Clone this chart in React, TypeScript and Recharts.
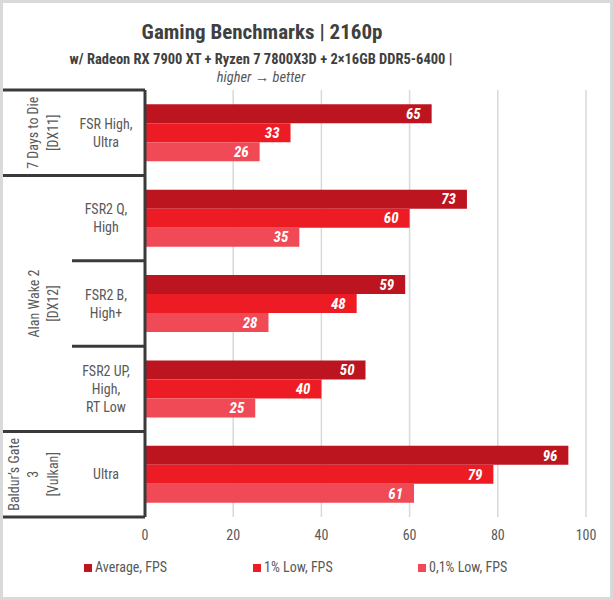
import React from 'react';
import { BarChart, Bar, XAxis, YAxis, CartesianGrid, LabelList } from 'recharts';

const groups = ['7 Days to Die\n[DX11]', 'Alan Wake 2\n[DX12]', 'Baldur\u2019s Gate\n3\n[Vulkan]'];
const settings = ['FSR High,\nUltra', 'FSR2 Q,\nHigh', 'FSR2 B,\nHigh+', 'FSR2 UP,\nHigh,\nRT Low', 'Ultra'];
const settingGroup = [0, 1, 1, 1, 2];

const avgFps = [65, 73, 59, 50, 96];
const low1Fps = [33, 60, 48, 40, 79];
const low01Fps = [26, 35, 28, 25, 61];

const seriesNames = ['Average, FPS', '1% Low, FPS', '0,1% Low, FPS'];
const xTicks = [0, 20, 40, 60, 80, 100];

const COLORS = ['#BC1520', '#ED1C24', '#EF4A55'];
const FONT = '"Roboto Condensed", "Liberation Sans Narrow", Roboto, sans-serif';
const TEXT = '#595959';
const LINE = '#3a3a3a';

const data = settings.map((s, i) => ({
  name: s,
  avg: avgFps[i],
  low1: low1Fps[i],
  low01: low01Fps[i],
}));

const AXIS_X = 145;

const SettingTick = (props: any) => {
  const { y, payload } = props;
  const i = payload.index ?? props.index;
  const half = payload.offset || 42.7;
  const lines = settings[i].split('\n');
  const g = settingGroup[i];
  const first = settingGroup.indexOf(g);
  const count = settingGroup.filter((v) => v === g).length;
  const isFirst = first === i;
  const isLast = i === settings.length - 1;
  const gLines = groups[g].split('\n');
  const cy = y + (count - 1) * half;

  return (
    <g>
      <line x1={isFirst ? 3 : 72} x2={AXIS_X} y1={y - half} y2={y - half} stroke={LINE} strokeWidth={3} />
      {isLast && <line x1={3} x2={AXIS_X} y1={y + half} y2={y + half} stroke={LINE} strokeWidth={3} />}
      <text x={106} y={y} textAnchor="middle" fill={TEXT} fontSize={14}>
        {lines.map((l, k) => (
          <tspan key={k} x={106} dy={k === 0 ? -((lines.length - 1) / 2) * 18 + 5 : 18}>
            {l}
          </tspan>
        ))}
      </text>
      {isFirst &&
        gLines.map((l, k) => {
          const cx = 53 - (gLines.length - 1 - k) * 19.5;
          return (
            <text
              key={k}
              x={cx}
              y={cy}
              dy={5}
              textAnchor="middle"
              fill={TEXT}
              fontSize={14}
              transform={`rotate(-90 ${cx} ${cy})`}
            >
              {l}
            </text>
          );
        })}
    </g>
  );
};

const legendX = [84, 253, 418];

export default function App() {
  const keys = ['avg', 'low1', 'low01'];
  return (
    <div style={{ position: 'absolute', left: 0, top: 0, width: 613, height: 600, background: '#fff', fontFamily: FONT }}>
      <BarChart
        layout="vertical"
        width={613}
        height={600}
        data={data}
        margin={{ top: 90, right: 27, bottom: 53, left: 0 }}
        barCategoryGap="16.7%"
        barGap={0}
      >
        <CartesianGrid horizontal={false} stroke="#d9d9d9" strokeWidth={1.5} />
        <XAxis
          type="number"
          domain={[0, 100]}
          ticks={xTicks}
          height={30}
          tickLine={false}
          axisLine={false}
          tickSize={0}
          tickMargin={13}
          tick={{ fill: TEXT, fontSize: 14 }}
        />
        <YAxis
          type="category"
          dataKey="name"
          width={145}
          interval={0}
          tickLine={false}
          axisLine={{ stroke: LINE, strokeWidth: 3 }}
          tick={<SettingTick />}
        />
        {keys.map((k, i) => (
          <Bar key={k} dataKey={k} name={seriesNames[i]} fill={COLORS[i]} isAnimationActive={false}>
            <LabelList
              dataKey={k}
              position="insideRight"
              offset={11}
              fill="#fff"
              fontSize={15}
              fontWeight="bold"
              fontStyle="italic"
            />
          </Bar>
        ))}
      </BarChart>
      <svg width={613} height={600} style={{ position: 'absolute', left: 0, top: 0, pointerEvents: 'none' }}>
        <text x={262} y={39} textAnchor="middle" fontSize={21} fontWeight="bold" fill="#404040">
          Gaming Benchmarks | 2160p
        </text>
        <text x={261} y={64} textAnchor="middle" fontSize={14.5} fontWeight="bold" fill="#404040">
          w/ Radeon RX 7900 XT + Ryzen 7 7800X3D + 2×16GB DDR5-6400 |
        </text>
        <text x={261} y={82} textAnchor="middle" fontSize={14.5} fontStyle="italic" fill={TEXT}>
          higher → better
        </text>
        {seriesNames.map((n, i) => (
          <g key={n}>
            <rect x={legendX[i]} y={564} width={8} height={8} fill={COLORS[i]} />
            <text x={legendX[i] + 11} y={572} fontSize={14} fill={TEXT}>
              {n}
            </text>
          </g>
        ))}
      </svg>
      <div
        style={{
          position: 'absolute',
          left: 0,
          top: 0,
          width: 613,
          height: 600,
          boxSizing: 'border-box',
          border: '3px solid #d9d9d9',
          pointerEvents: 'none',
        }}
      />
    </div>
  );
}
